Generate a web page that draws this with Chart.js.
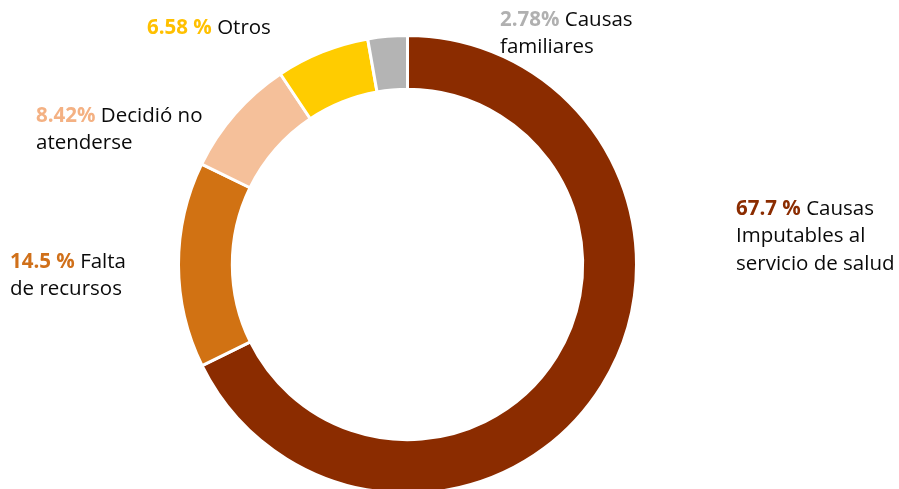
<!DOCTYPE html>
<html><head><meta charset="utf-8">
<script src="https://cdn.jsdelivr.net/npm/chart.js@4/dist/chart.umd.min.js"></script>
<style>html,body{margin:0;padding:0;background:#fff;overflow:hidden;width:899px;height:489px}#c{display:block}</style>
</head><body>
<canvas id="c" width="899" height="500"></canvas>
<script>
const categories = ["Causas Imputables al servicio de salud", "Falta de recursos", "Decidió no atenderse", "Otros", "Causas familiares"];
const values = [67.7, 14.5, 8.42, 6.58, 2.78];
const pctLabels = ["67.7 %", "14.5 %", "8.42%", "6.58 %", "2.78%"];
const nameLines = [["Causas", "Imputables al", "servicio de salud"], ["Falta", "de recursos"], ["Decidió no", "atenderse"], ["Otros"], ["Causas", "familiares"]];
const colors = ["#8B2C00", "#D17213", "#F5C09A", "#FFCC00", "#B4B4B4"];
const labelColors = ["#8B2C00", "#D0701A", "#F4B183", "#FFC000", "#B0B0B0"];

const labelPos = [
  {x: 736, y: 209}, {x: 10, y: 262}, {x: 36, y: 116}, {x: 147, y: 28}, {x: 500, y: 20}
];
const FONT = '"Open Sans", "Lato", sans-serif';
const SIZE = 20.5, LINE = 27.5;

const labelPlugin = {
  id: 'labels',
  afterDraw(chart) {
    const ctx = chart.ctx;
    ctx.save();
    ctx.textBaseline = 'middle';
    ctx.textAlign = 'left';
    categories.forEach((c, i) => {
      const p = labelPos[i];
      const lines = nameLines[i];
      ctx.font = 'bold ' + SIZE + 'px ' + FONT;
      ctx.fillStyle = labelColors[i];
      ctx.fillText(pctLabels[i], p.x, p.y);
      const w = ctx.measureText(pctLabels[i] + ' ').width;
      ctx.font = SIZE + 'px ' + FONT;
      ctx.fillStyle = '#0a0a0a';
      ctx.fillText(lines[0], p.x + w, p.y);
      for (let k = 1; k < lines.length; k++) ctx.fillText(lines[k], p.x, p.y + LINE * k);
    });
    ctx.restore();
  }
};

new Chart(document.getElementById('c'), {
  type: 'doughnut',
  data: { labels: categories, datasets: [{ data: values, backgroundColor: colors, borderColor: '#fff', borderWidth: 3, hoverOffset: 0 }] },
  options: {
    responsive: false, animation: false, cutout: '76.5%',
    layout: { padding: { top: 34, bottom: 5, left: 0, right: 84 } },
    plugins: { legend: { display: false }, tooltip: { enabled: false } }
  },
  plugins: [labelPlugin]
});
</script>
</body></html>
